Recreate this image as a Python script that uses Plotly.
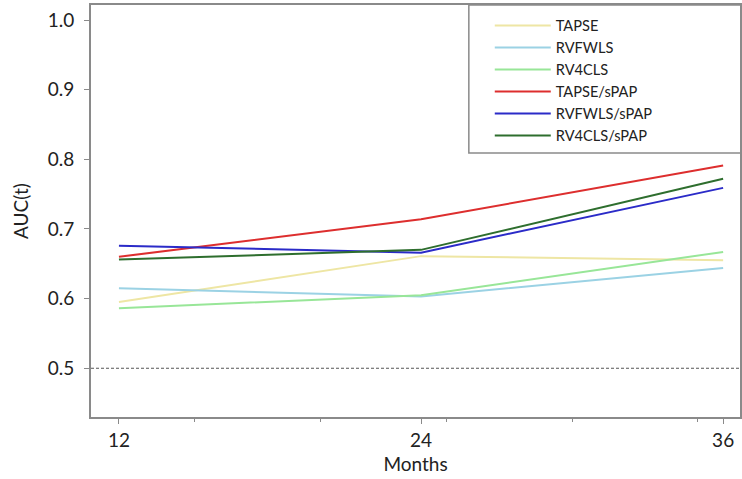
import plotly.graph_objects as go

# Time-dependent AUC of each echo parameter at 12, 24 and 36 months
months = [12, 24, 36]
series_names = ["TAPSE", "RVFWLS", "RV4CLS", "TAPSE/sPAP", "RVFWLS/sPAP", "RV4CLS/sPAP"]
tapse = [0.595, 0.661, 0.655]
rvfwls = [0.615, 0.603, 0.644]
rv4cls = [0.586, 0.605, 0.667]
tapse_spap = [0.660, 0.714, 0.791]
rvfwls_spap = [0.676, 0.666, 0.759]
rv4cls_spap = [0.656, 0.670, 0.772]
series_values = [tapse, rvfwls, rv4cls, tapse_spap, rvfwls_spap, rv4cls_spap]
series_colors = ["#EEE6A4", "#9BD2E4", "#98E698", "#DD2E2E", "#2B2BC8", "#2E6E2E"]

y_ticks = [0.5, 0.6, 0.7, 0.8, 0.9, 1.0]
y_tick_labels = ["0.5", "0.6", "0.7", "0.8", "0.9", "1.0"]
x_minor_ticks = [15, 20, 25, 30, 35]
reference_auc = 0.5

W, H = 742, 479
ML, MR, MT, MB = 91, 0, 5, 62
PW, PH = W - ML - MR, H - MT - MB
FONT = "Lato, 'Open Sans', sans-serif"
AXIS_COLOR = "#8a8a8a"

fig = go.Figure()
for name, vals, col in zip(series_names, series_values, series_colors):
    fig.add_trace(go.Scatter(x=months, y=vals, mode="lines", name=name,
                             line=dict(color=col, width=2)))

# chance-level reference line
fig.add_hline(y=reference_auc, line=dict(color="#555555", width=1, dash="3px,2px"))

# legend frame, anchored to the top-right of the panel
fig.add_shape(type="rect", xref="paper", yref="paper",
              x0=(470 - ML) / PW, x1=1.05,
              y0=1 - (153 - MT) / PH, y1=1.0,
              line=dict(color=AXIS_COLOR, width=1.5), fillcolor="rgba(0,0,0,0)")

fig.update_layout(
    width=W, height=H,
    margin=dict(l=ML, r=MR, t=MT, b=MB),
    paper_bgcolor="white", plot_bgcolor="white",
    font=dict(family=FONT, color="#222222"),
    showlegend=True,
    legend=dict(x=(491 - ML) / PW, y=1 - (9.5 - MT) / PH,
                xanchor="left", yanchor="top",
                bgcolor="rgba(0,0,0,0)", borderwidth=0,
                font=dict(size=14.6, family=FONT, color="#222222"),
                itemwidth=56, tracegroupgap=0),
    xaxis=dict(range=[10.89, 36.67], tickvals=months, ticktext=[str(m) for m in months],
               ticks="outside", ticklen=5, tickcolor=AXIS_COLOR, tickwidth=1,
               showline=True, linecolor=AXIS_COLOR, linewidth=2, mirror=True,
               showgrid=False, zeroline=False,
               tickfont=dict(size=19), title=dict(text="Months", font=dict(size=19), standoff=8),
               minor=dict(tickvals=x_minor_ticks, ticks="outside", ticklen=3,
                          tickcolor=AXIS_COLOR, showgrid=False)),
    yaxis=dict(range=[0.43, 1.0216], tickvals=y_ticks, ticktext=y_tick_labels,
               ticks="outside", ticklen=5, tickcolor=AXIS_COLOR, tickwidth=1,
               ticklabelstandoff=6,
               showline=True, linecolor=AXIS_COLOR, linewidth=2, mirror=True,
               showgrid=False, zeroline=False,
               tickfont=dict(size=19), title=dict(text="AUC(t)", font=dict(size=19), standoff=14)),
)

fig.write_html("out.html")
